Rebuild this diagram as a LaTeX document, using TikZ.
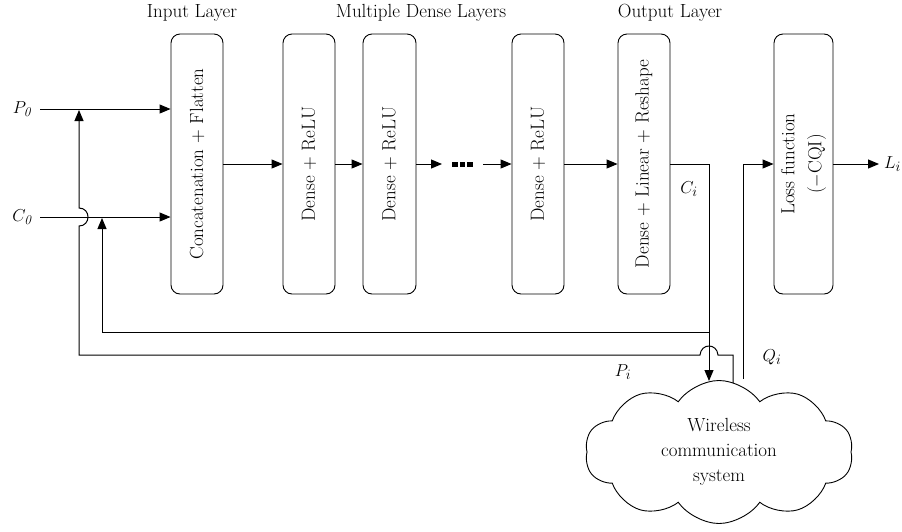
\documentclass[tikz,border=0pt]{standalone}
\usepackage{fontspec}
\usetikzlibrary{arrows.meta,shapes.symbols}
\begin{document}
\begin{tikzpicture}[x=1pt,y=-1pt,
  txt/.style={font=\fontsize{19}{23}\selectfont, inner sep=2pt},
  layer/.style={draw, rounded corners=9pt, line width=0.9pt, minimum width=52pt,
    minimum height=260pt, inner sep=0pt, font=\fontsize{19}{23}\selectfont},
  ln/.style={line width=1pt},
  arr/.style={ln, -{Triangle[length=11pt,width=9pt]}},
  dotsq/.style={fill=black}]
\useasboundingbox (0,0) rectangle (902,531);

% headers
\node[txt] (h1) at (192,13) {Input Layer};
\node[txt] (h2) at (421,13) {Multiple Dense Layers};
\node[txt] (h3) at (670,13) {Output Layer};

% layer boxes
\node[layer] (in) at (197,164) {\rotatebox{90}{Concatenation + Flatten}};
\node[layer] (d1) at (309,164) {\rotatebox{90}{Dense + ReLU}};
\node[layer, minimum width=53pt] (d2) at (389.5,164) {\rotatebox{90}{Dense + ReLU}};
\node[layer] (d3) at (538,164) {\rotatebox{90}{Dense + ReLU}};
\node[layer] (out) at (644,164) {\rotatebox{90}{Dense + Linear + Reshape}};
\node[layer, minimum width=59pt] (loss) at (803.5,164) {};
\node[txt, rotate=90, align=center, font=\fontsize{19}{27}\selectfont] (lossT) at (loss.center) {Loss function\\($-$CQI)};

% cloud
\node[cloud, draw, line width=0.9pt, cloud puffs=10, cloud puff arc=110, cloud ignores aspect,
  minimum width=268pt, minimum height=143pt, inner sep=0pt] (cloud) at (719,452) {};
\node[txt, align=center, font=\fontsize{19}{25}\selectfont] (cloudT) at (719,452) {Wireless\\communication\\system};

% labels
\node[txt] (P0) at (22,109) {$P_{\mathit{0}}$};
\node[txt] (C0) at (22,217) {$C_{\mathit{0}}$};
\node[txt] (Ci) at (689,189) {$C_i$};
\node[txt] (Pi) at (623,372) {$P_i$};
\node[txt] (Qi) at (772,357) {$Q_i$};
\node[txt, anchor=west] (Li) at (882,164) {$L_i$};

% coordinates
\coordinate (pin) at (40,109);
\coordinate (cin) at (40,217);
\coordinate (ci1) at (709,164);
\coordinate (ciD) at (709,381);
\coordinate (j1) at (709,332);
\coordinate (pOut) at (733,383);
\coordinate (qOut) at (743,379);
\coordinate (liEnd) at (879,164);
\coordinate (dA) at (442,164);
\coordinate (dB) at (483,164);

% inputs
\draw[arr] (pin) -- (in.west |- pin);
\draw[arr] (cin) -- (in.west |- cin);

% forward chain
\draw[arr] (in.east |- 0,164) -- (d1.west |- 0,164);
\draw[arr] (d1.east |- 0,164) -- (d2.west |- 0,164);
\draw[arr] (d2.east |- 0,164) -- (dA);
\fill[dotsq] (452,162) rectangle (457.5,167);
\fill[dotsq] (459.5,162) rectangle (465,167);
\fill[dotsq] (467,162) rectangle (472.5,167);
\draw[arr] (dB) -- (d3.west |- 0,164);
\draw[arr] (d3.east |- 0,164) -- (out.west |- 0,164);

% output C_i to cloud
\draw[arr] (out.east |- 0,164) -- (ci1) -- (ciD);
% inner feedback C_i -> C_0
\draw[arr] (j1) -- (102,332) -- (102,218);
% outer feedback P_i -> P_0
\draw[arr] (pOut) -- (733,355) -- (718,355) .. controls (717,343) and (701,343) .. (700,355)
  -- (79,355) -- (79,226) .. controls (91,226) and (91,208) .. (79,208) -- (79,110);
% Q_i to loss
\draw[arr] (qOut) -- (743,164) -- (loss.west);
% L_i
\draw[arr] (loss.east) -- (liEnd);
\end{tikzpicture}
\end{document}
